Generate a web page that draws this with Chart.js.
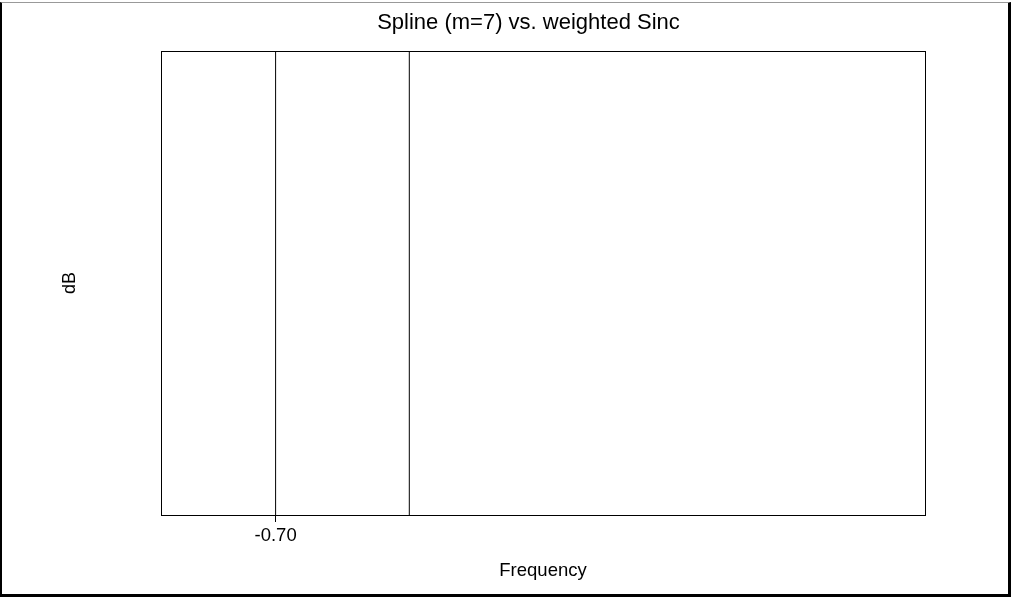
<!DOCTYPE html>
<html>
<head>
<meta charset="utf-8">
<title>Spline (m=7) vs. weighted Sinc</title>
<script src="https://cdn.jsdelivr.net/npm/chart.js@4.4.1/dist/chart.umd.min.js"></script>
<style>
  html, body { margin: 0; padding: 0; background: #fff; }
  #wrap { position: relative; width: 1011px; height: 597px; overflow: hidden; }
  #frame {
    position: absolute; left: 0; top: 2px; width: 1011px; height: 595px;
    box-sizing: border-box; pointer-events: none;
    border-left: 2px solid #000; border-top: 1px solid #999;
    border-right: 3px solid #000; border-bottom: 3px solid #000;
  }
</style>
</head>
<body>
<div id="wrap">
  <canvas id="chart" width="1011" height="597"></canvas>
  <div id="frame"></div>
</div>
<script>
// Data
const lineFreqs = [-0.70, -0.665];   // x of the two vertical traces
const dbRange = [-200, 0];           // each trace runs over the full dB range
const xTicks = [-0.70];
const xMin = -0.73, xMax = -0.53;

const FONT = "'Liberation Sans', Arial, Helvetica, sans-serif";

// Plot box around the chart area
const boxPlugin = {
  id: 'box',
  afterDraw(chart) {
    const { ctx, chartArea: a } = chart;
    ctx.save();
    ctx.strokeStyle = '#000';
    ctx.lineWidth = 1;
    ctx.strokeRect(Math.round(a.left) + 0.5, Math.round(a.top) + 0.5,
                   Math.round(a.right - a.left), Math.round(a.bottom - a.top));
    ctx.restore();
  }
};

const datasets = lineFreqs.map(f => ({
  data: dbRange.map(v => ({ x: f, y: v })),
  borderColor: '#000',
  borderWidth: 1,
  pointRadius: 0,
  fill: false,
  tension: 0
}));

new Chart(document.getElementById('chart'), {
  type: 'line',
  data: { datasets },
  plugins: [boxPlugin],
  options: {
    responsive: false,
    animation: false,
    layout: { padding: { left: 46, right: 0, top: 0, bottom: 0 } },
    plugins: {
      legend: { display: false },
      tooltip: { enabled: false },
      title: {
        display: true,
        text: 'Spline (m=7) vs. weighted Sinc',
        color: '#000',
        font: { family: FONT, size: 22, weight: 'normal' },
        padding: { top: 10, bottom: 14.6 }
      }
    },
    scales: {
      x: {
        type: 'linear',
        min: xMin,
        max: xMax,
        afterBuildTicks: s => { s.ticks = xTicks.map(v => ({ value: v })); },
        afterFit: s => { s.height = 82; },
        grid: { drawOnChartArea: false, drawTicks: true, tickLength: 7, color: '#000' },
        border: { display: false },
        ticks: {
          color: '#000',
          padding: 3,
          maxRotation: 0,
          font: { family: FONT, size: 18.5 },
          callback: v => v.toFixed(2)
        },
        title: {
          display: true,
          text: 'Frequency',
          color: '#000',
          font: { family: FONT, size: 18.5 },
          padding: { top: 0, bottom: 15 }
        }
      },
      y: {
        type: 'linear',
        min: dbRange[0],
        max: dbRange[1],
        afterFit: s => { s.width = 115; },
        grid: { display: false },
        border: { display: false },
        ticks: { display: false },
        title: {
          display: true,
          text: 'dB',
          color: '#000',
          font: { family: FONT, size: 18 },
          padding: { top: 13, bottom: 0 }
        }
      },
      y2: {
        type: 'linear',
        position: 'right',
        display: true,
        min: dbRange[0],
        max: dbRange[1],
        afterFit: s => { s.width = 86; },
        grid: { display: false },
        border: { display: false },
        ticks: { display: false }
      }
    }
  }
});
</script>
</body>
</html>
